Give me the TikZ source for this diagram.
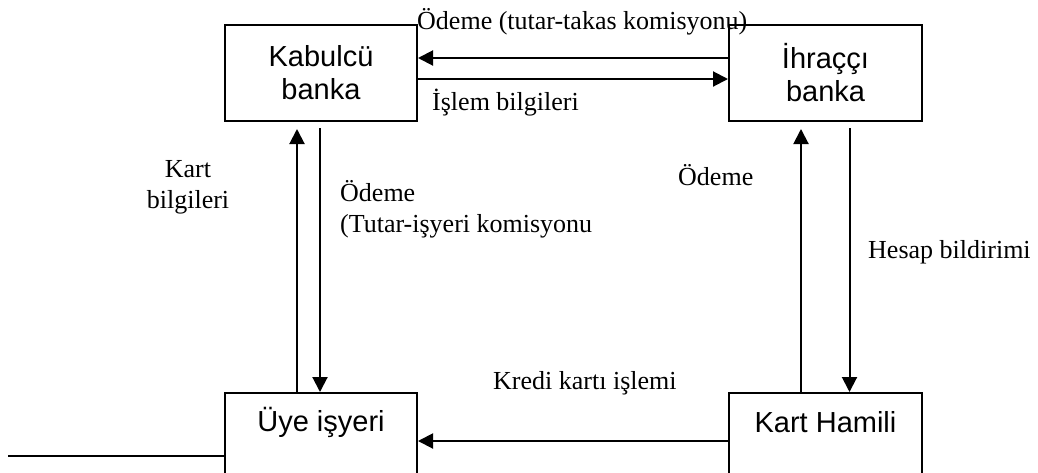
\documentclass[tikz,border=0pt]{standalone}
\usepackage{fontspec}
\setmainfont{Liberation Serif}
\newfontfamily\boxfont{Liberation Sans}
\usetikzlibrary{arrows.meta}
\begin{document}
\begin{tikzpicture}[x=1pt,y=-1pt,
  box/.style={draw, line width=2pt, inner sep=0pt},
  boxtext/.style={font=\boxfont\fontsize{29}{33}\selectfont, align=center, inner sep=0pt},
  lbl/.style={font=\fontsize{26}{31}\selectfont, inner sep=0pt},
  arr/.style={line width=2pt, -{Triangle[length=15pt,width=15pt]}},
  ln/.style={line width=2pt}]
\useasboundingbox (0,0) rectangle (1038,472);
\clip (0,0) rectangle (1038,472);
% boxes
\node[box, minimum width=192pt, minimum height=96pt] (kab) at (321,73) {};
\node[boxtext] at (kab.center) {Kabulcü\\banka};
\node[box, minimum width=193pt, minimum height=96pt] (ihr) at (825.5,73) {};
\node[boxtext] at (ihr.center) {İhraççı\\banka};
\node[box, minimum width=192pt, minimum height=96pt] (uye) at (321,441) {};
\node[boxtext] (uyet) at (321,422) {Üye işyeri};
\node[box, minimum width=193pt, minimum height=96pt] (kart) at (825.5,441) {};
\node[boxtext] (kartt) at (825.5,422) {Kart Hamili};
% top connectors
\draw[arr] ([yshift=15pt]ihr.west) -- ([yshift=15pt]kab.east);
\draw[arr] ([yshift=-6pt]kab.east) -- ([yshift=-6pt]ihr.west);
% left connectors
\draw[arr] ([xshift=-24pt]uye.north) -- ([xshift=-24pt,yshift=-7pt]kab.south);
\draw[arr] ([xshift=-1pt,yshift=-6pt]kab.south) -- ([xshift=-1pt]uye.north);
% right connectors
\draw[arr] ([xshift=-24.5pt]kart.north) -- ([xshift=-24.5pt,yshift=-7pt]ihr.south);
\draw[arr] ([xshift=24pt,yshift=-6pt]ihr.south) -- ([xshift=24pt]kart.north);
% bottom connector
\draw[arr] (kart.west) -- (uye.east);
% footnote rule
\coordinate (fn) at (8,456);
\draw[ln] (fn) -- (fn -| uye.west);
% labels
\node[lbl, anchor=base west] (l1) at (417,29) {Ödeme (tutar-takas komisyonu)};
\node[lbl, anchor=base west] (l2) at (432,110) {İşlem bilgileri};
\node[lbl, anchor=base, align=center] (l3) at (188,208) {Kart\\bilgileri};
\node[lbl, anchor=base west, align=left] (l4) at (340,232) {Ödeme\\(Tutar-işyeri komisyonu};
\node[lbl, anchor=base west] (l5) at (678,185) {Ödeme};
\node[lbl, anchor=base west] (l6) at (868,258) {Hesap bildirimi};
\node[lbl, anchor=base west] (l7) at (493,389) {Kredi kartı işlemi};
\end{tikzpicture}
\end{document}
